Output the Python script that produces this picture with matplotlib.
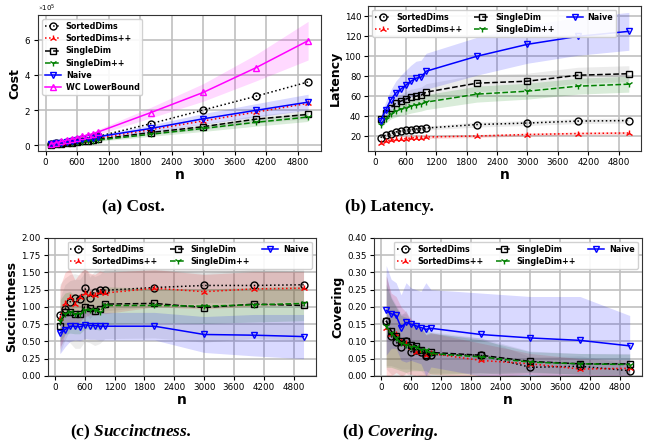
import numpy as np
import matplotlib
matplotlib.use('Agg')
import matplotlib.pyplot as plt
from matplotlib.ticker import ScalarFormatter, FormatStrFormatter

plt.rcParams['mathtext.fontset'] = 'custom'
plt.rcParams['mathtext.rm'] = 'Liberation Serif'
plt.rcParams['mathtext.bf'] = 'Liberation Serif:bold'
plt.rcParams['mathtext.it'] = 'Liberation Serif:italic'
plt.rcParams['mathtext.bfit'] = 'Liberation Serif:italic:bold'

# x values
n = [100, 200, 300, 400, 500, 600, 700, 800, 900, 1000, 2000, 3000, 4000, 5000]

# ---- cost (raw values) ----
cost_sorted = [5000, 10000, 15000, 20000, 25000, 30000, 35000, 40000, 45000, 50000, 122000, 200000, 278000, 360000]
cost_sorted_pp = [3500, 7500, 11000, 15000, 19000, 23000, 27000, 31000, 35000, 40000, 88000, 138000, 188000, 238000]
cost_single = [2500, 5500, 8500, 12000, 15000, 18000, 21000, 25000, 28000, 33000, 72000, 105000, 148000, 175000]
cost_single_pp = [2200, 5000, 7500, 10500, 13500, 16000, 19000, 22000, 25000, 29000, 62000, 95000, 130000, 160000]
cost_naive = [5000, 9500, 14000, 19000, 24000, 28500, 33000, 38000, 42500, 48000, 95000, 150000, 198000, 245000]
cost_wc = [7000, 14000, 21000, 28000, 35000, 43000, 50000, 57000, 65000, 75000, 185000, 300000, 440000, 595000]
cost_naive_sd = [1000, 2000, 3000, 4000, 5000, 6000, 7000, 8000, 9000, 10000, 20000, 30000, 38000, 45000]
cost_wc_sd = [1500, 3000, 4000, 5500, 7000, 8500, 10000, 11000, 12500, 14000, 30000, 50000, 75000, 110000]
cost_single_sd = [800, 1500, 2000, 3000, 3500, 4000, 5000, 5500, 6000, 7000, 12000, 17000, 22000, 25000]
cost_single_pp_sd = [800, 1500, 2000, 3000, 3500, 4000, 5000, 5500, 6000, 7000, 12000, 17000, 22000, 25000]
cost_zero_sd = [0] * 14

# ---- latency ----
lat_sorted = [18.5, 21, 22.5, 24, 25, 26, 26.5, 27, 27.5, 28, 31.5, 33, 35, 35.5]
lat_sorted_pp = [13, 15, 16, 16.5, 17, 17.5, 18, 18.5, 18.5, 19, 20, 21.5, 22.5, 23]
lat_single = [37, 43, 48, 53, 55, 57, 59, 60, 61, 64, 73, 75, 81, 82.5]
lat_single_pp = [31, 37, 42, 45, 47, 48, 50, 51, 52, 54, 62, 65, 70, 72]
lat_naive = [35, 46, 56, 63, 67, 71, 75, 78, 79, 85, 100, 112, 120, 125]
lat_sorted_sd = [2, 2, 2, 2, 2, 2, 2, 2, 2, 2, 2.5, 2.5, 2.5, 2.5]
lat_sorted_pp_sd = [1.5, 1.5, 1.5, 1.5, 1.5, 1.5, 1.5, 1.5, 1.5, 1.5, 1.5, 1.5, 1.5, 1.5]
lat_single_sd = [4, 5, 6, 7, 7, 7.5, 8, 8, 8, 8.5, 8.5, 8, 8, 8]
lat_single_pp_sd = [3, 4, 5, 6, 6, 6.5, 7, 7, 7, 7.5, 8, 8, 8, 8]
lat_naive_sd = [5, 8, 10, 12, 14, 15, 16, 17, 17, 18, 19, 19, 19, 19]

# ---- succinctness ----
suc_sorted = [0.88, 0.97, 1.07, 1.13, 1.11, 1.27, 1.13, 1.22, 1.25, 1.24, 1.28, 1.31, 1.31, 1.32]
suc_sorted_pp = [0.84, 1.05, 1.15, 1.04, 1.14, 1.20, 1.19, 1.17, 1.22, 1.20, 1.27, 1.22, 1.26, 1.27]
suc_single = [0.73, 0.92, 0.93, 0.90, 0.90, 1.00, 0.98, 0.94, 0.97, 1.04, 1.05, 0.99, 1.04, 1.02]
suc_single_pp = [0.80, 0.90, 0.92, 0.89, 0.89, 0.96, 0.95, 0.95, 0.93, 1.02, 1.02, 1.01, 1.03, 1.05]
suc_naive = [0.62, 0.67, 0.72, 0.72, 0.71, 0.74, 0.73, 0.73, 0.72, 0.72, 0.72, 0.60, 0.59, 0.57]
suc_sorted_sd = [0.45, 0.45, 0.4, 0.35, 0.35, 0.35, 0.3, 0.3, 0.3, 0.3, 0.27, 0.25, 0.25, 0.24]
suc_sorted_pp_sd = [0.45, 0.45, 0.4, 0.35, 0.35, 0.35, 0.3, 0.3, 0.3, 0.3, 0.27, 0.25, 0.25, 0.24]
suc_single_sd = [0.4, 0.4, 0.45, 0.5, 0.5, 0.5, 0.5, 0.5, 0.5, 0.5, 0.5, 0.5, 0.5, 0.5]
suc_single_pp_sd = [0.3, 0.3, 0.3, 0.28, 0.28, 0.28, 0.27, 0.27, 0.27, 0.27, 0.25, 0.25, 0.25, 0.25]
suc_naive_sd = [0.3, 0.25, 0.22, 0.2, 0.2, 0.2, 0.2, 0.2, 0.2, 0.2, 0.2, 0.26, 0.3, 0.32]

# ---- covering ----
cov_sorted = [0.160, 0.115, 0.098, 0.085, 0.100, 0.070, 0.075, 0.070, 0.058, 0.062, 0.060, 0.025, 0.028, 0.015]
cov_sorted_pp = [0.140, 0.120, 0.120, 0.100, 0.095, 0.085, 0.070, 0.070, 0.060, 0.065, 0.045, 0.035, 0.020, 0.022]
cov_single = [0.160, 0.130, 0.115, 0.100, 0.100, 0.090, 0.088, 0.075, 0.060, 0.068, 0.060, 0.042, 0.035, 0.035]
cov_single_pp = [0.145, 0.125, 0.110, 0.095, 0.090, 0.085, 0.085, 0.075, 0.075, 0.065, 0.055, 0.040, 0.035, 0.033]
cov_naive = [0.190, 0.180, 0.175, 0.140, 0.155, 0.150, 0.145, 0.140, 0.135, 0.138, 0.120, 0.110, 0.103, 0.087]
cov_sorted_sd = [0.14, 0.11, 0.1, 0.09, 0.09, 0.08, 0.07, 0.07, 0.06, 0.06, 0.05, 0.03, 0.03, 0.02]
cov_sorted_pp_sd = [0.15, 0.12, 0.11, 0.1, 0.09, 0.08, 0.07, 0.07, 0.06, 0.06, 0.05, 0.03, 0.03, 0.025]
cov_single_sd = [0.13, 0.1, 0.09, 0.08, 0.08, 0.07, 0.07, 0.06, 0.06, 0.06, 0.05, 0.03, 0.03, 0.03]
cov_single_pp_sd = [0.12, 0.1, 0.09, 0.08, 0.08, 0.07, 0.07, 0.06, 0.06, 0.06, 0.05, 0.03, 0.03, 0.03]
cov_naive_sd = [0.13, 0.10, 0.095, 0.095, 0.115, 0.105, 0.105, 0.105, 0.135, 0.112, 0.12, 0.12, 0.127, 0.088]

xticks = [0, 600, 1200, 1800, 2400, 3000, 3600, 4200, 4800]

styles = {
    'SortedDims': dict(color='black', ls=':', marker='o', mfc='none', band='gray'),
    'SortedDims++': dict(color='red', ls=':', marker='2', mfc='red', band='red'),
    'SingleDim': dict(color='black', ls='--', marker='s', mfc='none', band='gray'),
    'SingleDim++': dict(color='green', ls='--', marker='1', mfc='green', band='green'),
    'Naive': dict(color='blue', ls='-', marker='v', mfc='none', band='blue'),
    'WC LowerBound': dict(color='magenta', ls='-', marker='^', mfc='none', band='magenta'),
}


def draw(ax, name, y, sd, alpha=0.15):
    s = styles[name]
    y = np.array(y)
    sd = np.array(sd)
    ax.fill_between(n, y - sd, y + sd, color=s['band'], alpha=alpha, lw=0)
    ax.plot(n, y, color=s['color'], ls=s['ls'], marker=s['marker'], mfc=s['mfc'],
            mec=s['color'], ms=5, mew=1.0, lw=1.1, label=name)


def style(ax, ylabel):
    ax.set_xticks(xticks)
    ax.grid(True, color='#c0c0c0', lw=1.2)
    ax.set_axisbelow(True)
    ax.set_xlabel('n', fontsize=10, fontweight='bold', labelpad=1)
    ax.set_ylabel(ylabel, fontsize=9, fontweight='bold', labelpad=2)
    ax.tick_params(labelsize=6.3, length=3, pad=2)
    for sp in ax.spines.values():
        sp.set_color('#333333')


leg = dict(prop={'weight': 'bold', 'size': 5.8}, handlelength=2.0, labelspacing=0.4,
           borderpad=0.35, handletextpad=0.6, framealpha=0.9)

fig = plt.figure(figsize=(6.55, 4.47), dpi=100)

# (a) cost
ax = fig.add_axes([0.058, 0.662, 0.432, 0.304])
draw(ax, 'SortedDims', cost_sorted, cost_zero_sd)
draw(ax, 'SortedDims++', cost_sorted_pp, cost_zero_sd)
draw(ax, 'SingleDim', cost_single, cost_single_sd)
draw(ax, 'SingleDim++', cost_single_pp, cost_single_pp_sd)
draw(ax, 'Naive', cost_naive, cost_naive_sd)
draw(ax, 'WC LowerBound', cost_wc, cost_wc_sd)
fmt = ScalarFormatter(useMathText=True)
fmt.set_powerlimits((0, 0))
ax.yaxis.set_major_formatter(fmt)
ax.yaxis.get_offset_text().set_fontsize(5)
style(ax, 'Cost')
ax.legend(loc='upper left', **leg)

# (b) latency
ax = fig.add_axes([0.562, 0.662, 0.417, 0.325])
draw(ax, 'SortedDims', lat_sorted, lat_sorted_sd)
draw(ax, 'SortedDims++', lat_sorted_pp, lat_sorted_pp_sd)
draw(ax, 'SingleDim', lat_single, lat_single_sd)
draw(ax, 'SingleDim++', lat_single_pp, lat_single_pp_sd)
draw(ax, 'Naive', lat_naive, lat_naive_sd)
ax.set_yticks([20, 40, 60, 80, 100, 120, 140])
style(ax, 'Latency')
ax.legend(loc='upper left', ncol=3, columnspacing=1.5, **leg)

# (c) succinctness
ax = fig.add_axes([0.073, 0.159, 0.409, 0.309])
draw(ax, 'SortedDims', suc_sorted, suc_sorted_sd)
draw(ax, 'SortedDims++', suc_sorted_pp, suc_sorted_pp_sd)
draw(ax, 'SingleDim', suc_single, suc_single_sd)
draw(ax, 'SingleDim++', suc_single_pp, suc_single_pp_sd)
draw(ax, 'Naive', suc_naive, suc_naive_sd)
ax.set_ylim(0, 2.0)
ax.set_yticks(np.arange(0, 2.01, 0.25))
ax.yaxis.set_major_formatter(FormatStrFormatter('%.2f'))
style(ax, 'Succinctness')
ax.legend(loc='upper right', ncol=3, columnspacing=1.5, **leg)

# (d) covering
ax = fig.add_axes([0.571, 0.159, 0.409, 0.309])
draw(ax, 'SortedDims', cov_sorted, cov_sorted_sd)
draw(ax, 'SortedDims++', cov_sorted_pp, cov_sorted_pp_sd)
draw(ax, 'SingleDim', cov_single, cov_single_sd)
draw(ax, 'SingleDim++', cov_single_pp, cov_single_pp_sd)
draw(ax, 'Naive', cov_naive, cov_naive_sd)
ax.set_ylim(0, 0.4)
ax.set_yticks(np.arange(0, 0.401, 0.05))
ax.yaxis.set_major_formatter(FormatStrFormatter('%.2f'))
style(ax, 'Covering')
ax.legend(loc='upper right', ncol=3, columnspacing=1.5, **leg)

# captions
cap = dict(fontsize=12.5, family='Liberation Serif', fontweight='bold', ha='center', va='center')
fig.text(133 / 655, 1 - 207 / 447, '(a) Cost.', **cap)
fig.text(389 / 655, 1 - 207 / 447, '(b) Latency.', **cap)
fig.text(131 / 655, 1 - 432 / 447, r'(c) $\mathbfit{Succinctness.}$', **cap)
fig.text(390 / 655, 1 - 432 / 447, r'(d) $\mathbfit{Covering.}$', **cap)

fig.savefig('out.png', dpi=100)
